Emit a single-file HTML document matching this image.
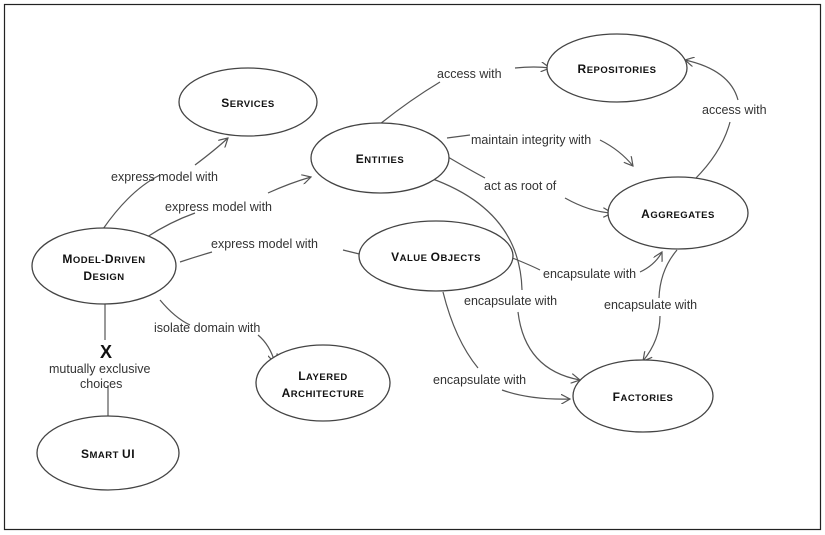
<!DOCTYPE html>
<html><head><meta charset="utf-8"><style>
body{margin:0;background:#fff;}
svg{display:block;}
.n{font-family:"Liberation Sans",sans-serif;font-weight:bold;font-size:12px;fill:#111;text-anchor:middle;letter-spacing:0.5px}
.n .s{font-size:9.5px}
.l{font-family:"Liberation Sans",sans-serif;font-size:12.5px;fill:#333}
ellipse{fill:#fff;stroke:#444;stroke-width:1.3}
path{fill:none;stroke:#555;stroke-width:1.2}
</style></head><body>
<svg width="825" height="535" viewBox="0 0 825 535">
<rect x="0" y="0" width="825" height="535" fill="#fff"/>
<rect x="4.5" y="4.5" width="816" height="525" fill="none" stroke="#222" stroke-width="1.2"/>
<defs><marker id="a" markerWidth="10" markerHeight="10" refX="9" refY="5" orient="auto" markerUnits="userSpaceOnUse"><path d="M0,0 L9,5 L0,10" style="stroke:#555;fill:none"/></marker></defs>
<!-- connectors -->
<path d="M103,229 Q130,190 160,175"/><path d="M195,165 Q215,150 228,138" marker-end="url(#a)"/>
<path d="M147,237 Q170,222 195,213"/><path d="M268,193 Q290,183 311,177" marker-end="url(#a)"/>
<path d="M180,262 Q195,257 212,252"/><path d="M343,250 Q355,253 372,257" marker-end="url(#a)"/>
<path d="M160,300 Q175,318 190,325"/><path d="M258,335 Q270,345 275,363" marker-end="url(#a)"/>
<path d="M105,304 L105,340"/><path d="M108,385 L108,416"/>
<path d="M380,124 Q410,100 440,82"/><path d="M515,68 Q535,66 550,68" marker-end="url(#a)"/>
<path d="M447,138 L470,135"/><path d="M600,140 Q620,150 633,166" marker-end="url(#a)"/>
<path d="M448,157 Q470,170 485,178"/><path d="M565,198 Q590,212 612,213" marker-end="url(#a)"/>
<path d="M695,179 Q722,152 730,122"/><path d="M738,100 Q730,70 685,60" marker-end="url(#a)"/>
<path d="M430,178 Q520,210 522,290"/><path d="M518,312 Q525,370 580,380" marker-end="url(#a)"/>
<path d="M510,257 Q530,265 540,270"/><path d="M640,272 Q655,265 662,252" marker-end="url(#a)"/>
<path d="M677,250 Q660,270 659,298"/><path d="M660,316 Q660,340 643,361" marker-end="url(#a)"/>
<path d="M443,292 Q455,340 478,368"/><path d="M502,390 Q530,400 570,399" marker-end="url(#a)"/>
<!-- nodes -->
<ellipse cx="248" cy="102" rx="69" ry="34"/><text class="n" x="248" y="107">S<tspan class="s">ERVICES</tspan></text>
<ellipse cx="380" cy="158" rx="69" ry="35"/><text class="n" x="380" y="163">E<tspan class="s">NTITIES</tspan></text>
<ellipse cx="617" cy="68" rx="70" ry="34"/><text class="n" x="617" y="73">R<tspan class="s">EPOSITORIES</tspan></text>
<ellipse cx="678" cy="213" rx="70" ry="36"/><text class="n" x="678" y="218">A<tspan class="s">GGREGATES</tspan></text>
<ellipse cx="436" cy="256" rx="77" ry="35"/><text class="n" x="436" y="261">V<tspan class="s">ALUE </tspan>O<tspan class="s">BJECTS</tspan></text>
<ellipse cx="104" cy="266" rx="72" ry="38"/><text class="n" x="104" y="263">M<tspan class="s">ODEL-</tspan>D<tspan class="s">RIVEN</tspan></text><text class="n" x="104" y="280">D<tspan class="s">ESIGN</tspan></text>
<ellipse cx="323" cy="383" rx="67" ry="38"/><text class="n" x="323" y="380">L<tspan class="s">AYERED</tspan></text><text class="n" x="323" y="397">A<tspan class="s">RCHITECTURE</tspan></text>
<ellipse cx="643" cy="396" rx="70" ry="36"/><text class="n" x="643" y="401">F<tspan class="s">ACTORIES</tspan></text>
<ellipse cx="108" cy="453" rx="71" ry="37"/><text class="n" x="108" y="458">S<tspan class="s">MART </tspan>UI</text>
<!-- labels -->
<text class="l" x="111" y="181">express model with</text>
<text class="l" x="165" y="211">express model with</text>
<text class="l" x="211" y="248">express model with</text>
<text class="l" x="154" y="332">isolate domain with</text>
<text x="100" y="358" style="font-family:'Liberation Sans',sans-serif;font-weight:bold;font-size:18px;fill:#111">X</text>
<text class="l" x="49" y="373">mutually exclusive</text>
<text class="l" x="80" y="388">choices</text>
<text class="l" x="437" y="78">access with</text>
<text class="l" x="471" y="144">maintain integrity with</text>
<text class="l" x="484" y="190">act as root of</text>
<text class="l" x="702" y="114">access with</text>
<text class="l" x="543" y="278">encapsulate with</text>
<text class="l" x="464" y="305">encapsulate with</text>
<text class="l" x="604" y="309">encapsulate with</text>
<text class="l" x="433" y="384">encapsulate with</text>
</svg>
</body></html>
